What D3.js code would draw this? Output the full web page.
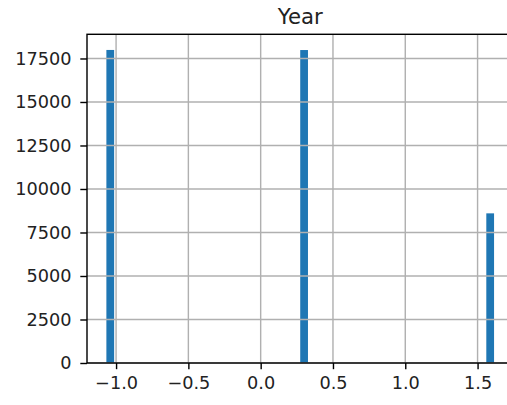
<!DOCTYPE html>
<html>
<head>
<meta charset="utf-8">
<script src="https://cdn.jsdelivr.net/npm/d3@7"></script>
<style>
  html, body { margin: 0; padding: 0; background: #fff; }
  svg { display: block; }
</style>
</head>
<body>
<div id="chart"></div>
<script>
// ---- data (histogram of standardized "Year") ----
const title = "Year";
const dataMin = -1.067;
const dataMax = 1.614;
const nBins = 50;
const binIndex = [0, 25, 49];
const binCounts = [17990, 17985, 8600];
const xTicks = [-1.0, -0.5, 0.0, 0.5, 1.0, 1.5];
const yTicks = [0, 2500, 5000, 7500, 10000, 12500, 15000, 17500];

(function () {
// ---- layout ----
const W = 507, H = 405;
const s = 1.77;               // px per pt
const mLeft = 87, mTop = 34.3, mBottom = 363;
const pxPerUnit = 144.6;

const span = dataMax - dataMin;
const xDomain = [dataMin - 0.05 * span, dataMax + 0.05 * span];
const mRight = mLeft + (xDomain[1] - xDomain[0]) * pxPerUnit;
const binW = span / nBins;
const maxCount = d3.max(binCounts);

const x = d3.scaleLinear().domain(xDomain).range([mLeft, mRight]);
const y = d3.scaleLinear().domain([0, maxCount * 1.05]).range([mBottom, mTop]);

const svg = d3.select("#chart").append("svg")
  .attr("width", W).attr("height", H)
  .style("font-family", "'DejaVu Sans', sans-serif");

const fmtX = v => (v < 0 ? "\u2212" : "") + Math.abs(v).toFixed(1);

const bins = binIndex.map((b, i) => ({
  x0: dataMin + b * binW,
  x1: dataMin + (b + 1) * binW,
  count: binCounts[i]
}));

svg.append("defs").append("clipPath").attr("id", "clip")
  .append("rect").attr("x", mLeft).attr("y", mTop)
  .attr("width", mRight - mLeft).attr("height", mBottom - mTop);

// bars
svg.append("g").attr("clip-path", "url(#clip)")
  .selectAll("rect").data(bins).join("rect")
  .attr("x", d => x(d.x0))
  .attr("width", d => x(d.x1) - x(d.x0))
  .attr("y", d => y(d.count))
  .attr("height", d => y(0) - y(d.count))
  .attr("fill", "#1f77b4");

// grid (drawn above bars, matplotlib axisbelow='line')
const grid = svg.append("g").attr("stroke", "#b0b0b0").attr("stroke-width", 0.8 * s);
grid.selectAll("line.gx").data(xTicks).join("line").attr("class", "gx")
  .attr("x1", d => x(d)).attr("x2", d => x(d))
  .attr("y1", mTop).attr("y2", mBottom);
grid.selectAll("line.gy").data(yTicks).join("line").attr("class", "gy")
  .attr("x1", mLeft).attr("x2", mRight)
  .attr("y1", d => y(d)).attr("y2", d => y(d));

// axes via d3
const tickLen = 3.5 * s, pad = 3.5 * s;
const fs = 10 * s;

const xAxis = svg.append("g").attr("transform", `translate(0,${mBottom})`)
  .call(d3.axisBottom(x).tickValues(xTicks).tickFormat(fmtX)
    .tickSize(tickLen).tickPadding(pad));
const yAxis = svg.append("g").attr("transform", `translate(${mLeft},0)`)
  .call(d3.axisLeft(y).tickValues(yTicks).tickFormat(d3.format("d"))
    .tickSize(tickLen + 0.5).tickPadding(pad + 2.5));

[xAxis, yAxis].forEach(g => {
  g.select(".domain").remove();
  g.selectAll(".tick line").attr("stroke", "#000").attr("stroke-width", 0.8 * s);
  g.selectAll(".tick text").attr("fill", "#222").style("font-size", fs + "px")
    .style("font-family", "'DejaVu Sans', sans-serif");
});
xAxis.selectAll(".tick text").attr("dy", "0.76em");

// spines
svg.append("rect").attr("x", mLeft).attr("y", mTop)
  .attr("width", mRight - mLeft).attr("height", mBottom - mTop)
  .attr("fill", "none").attr("stroke", "#000").attr("stroke-width", 0.8 * s);

// title
svg.append("text")
  .attr("x", (mLeft + mRight) / 2).attr("y", mTop - 6 * s)
  .attr("text-anchor", "middle")
  .attr("fill", "#222")
  .style("font-size", (12 * s) + "px")
  .text(title);
})();
</script>
</body>
</html>
